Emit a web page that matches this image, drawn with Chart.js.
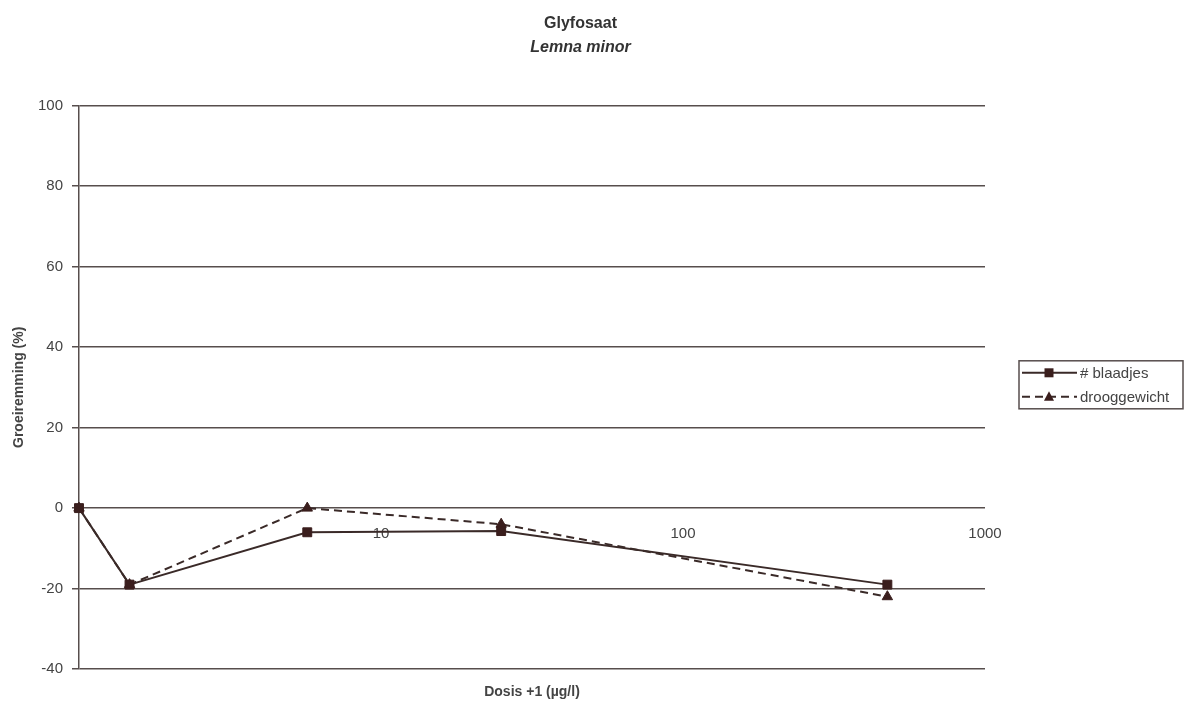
<!DOCTYPE html>
<html>
  <head>
    <meta charset="utf-8">
    <title>Glyfosaat - Lemna minor</title>
    <script src="https://cdn.jsdelivr.net/npm/chart.js@4.4.0/dist/chart.umd.min.js"></script>
    <style>
      body { margin: 0; background: #ffffff; }
      #wrap { width: 1189px; height: 706px; }
    </style>
  </head>
  <body>
    <div id="wrap"><canvas id="groeiChart"></canvas></div>
    <script>
      // dosis + 1 (µg/l)
      const doses = [1, 1.47, 5.7, 25, 475];
      // groeiremming (%) per serie
      const blaadjes = [0, -19, -6, -5.7, -19];
      const drooggewicht = [0, -19, 0, -4, -22];
      const seriesNames = ['# blaadjes', 'drooggewicht'];
      const xTickValues = [10, 100, 1000];

      const lineColor = '#3a2a28';
      const markerColor = '#3a1e1d';
      const gridColor = '#574e4d';
      const textColor = '#444444';
      Chart.defaults.font.family = '"Liberation Sans", Arial, sans-serif';

      // legend with a border, line sample and marker like the original
      const boxLegend = {
        id: 'boxLegend',
        afterDraw(chart) {
          const ctx = chart.ctx;
          const area = chart.chartArea;
          const rowH = 24;
          const left = area.right + 34;
          const width = 164;
          const top = (area.top + area.bottom) / 2 - 26.5;
          ctx.save();
          ctx.strokeStyle = gridColor;
          ctx.lineWidth = 1.5;
          ctx.strokeRect(left, top, width, rowH * 2);
          chart.data.datasets.forEach((ds, i) => {
            const y = top + rowH / 2 + i * rowH;
            ctx.strokeStyle = ds.borderColor;
            ctx.lineWidth = ds.borderWidth;
            ctx.setLineDash(ds.borderDash || []);
            ctx.beginPath();
            ctx.moveTo(left + 3, y);
            ctx.lineTo(left + 58, y);
            ctx.stroke();
            ctx.setLineDash([]);
            ctx.fillStyle = markerColor;
            const mx = left + 30;
            ctx.beginPath();
            if (ds.pointStyle === 'rect') {
              ctx.rect(mx - 4.5, y - 4.5, 9, 9);
            } else {
              ctx.moveTo(mx, y - 5.5);
              ctx.lineTo(mx + 5, y + 4);
              ctx.lineTo(mx - 5, y + 4);
              ctx.closePath();
            }
            ctx.fill();
            ctx.fillStyle = textColor;
            ctx.font = '15px "Liberation Sans", Arial, sans-serif';
            ctx.textBaseline = 'middle';
            ctx.fillText(ds.label, left + 61, y + 1);
          });
          ctx.restore();
        }
      };

      new Chart(document.getElementById('groeiChart'), {
        type: 'line',
        data: {
          datasets: [{
            label: seriesNames[0],
            data: doses.map((d, i) => ({ x: d, y: blaadjes[i] })),
            borderColor: lineColor,
            borderWidth: 2,
            pointStyle: 'rect',
            pointRadius: 6.3,
            pointBackgroundColor: markerColor,
            pointBorderColor: markerColor,
            pointBorderWidth: 1,
            clip: false
          }, {
            label: seriesNames[1],
            data: doses.map((d, i) => ({ x: d, y: drooggewicht[i] })),
            borderColor: lineColor,
            borderWidth: 2,
            borderDash: [8, 5],
            pointStyle: 'triangle',
            pointRadius: 6,
            pointBackgroundColor: markerColor,
            pointBorderColor: markerColor,
            pointBorderWidth: 1,
            clip: false
          }]
        },
        options: {
          responsive: true,
          maintainAspectRatio: false,
          animation: false,
          // a bit of right padding so the title sits where the original has it
          layout: { padding: { right: 28 } },
          plugins: {
            legend: { display: false },
            tooltip: { enabled: false },
            title: {
              display: true,
              text: 'Glyfosaat',
              color: '#333333',
              font: { size: 16, weight: 'bold' },
              padding: { top: 14, bottom: 5 }
            },
            subtitle: {
              display: true,
              text: 'Lemna minor',
              color: '#333333',
              font: { size: 16, weight: 'bold', style: 'italic' },
              padding: { top: 0, bottom: 48 }
            }
          },
          scales: {
            x: {
              type: 'logarithmic',
              min: 1,
              max: 1000,
              position: { y: 0 },
              afterBuildTicks(scale) {
                scale.ticks = xTickValues.map(v => ({ value: v }));
              },
              ticks: {
                color: textColor,
                font: { size: 15 },
                padding: 17,
                autoSkip: false,
                maxRotation: 0,
                callback: v => String(v)
              },
              grid: { display: false, drawTicks: false },
              border: { display: false }
            },
            x2: {
              type: 'linear',
              position: 'bottom',
              ticks: { display: false },
              grid: { display: false, drawTicks: false },
              border: { display: false },
              title: {
                display: true,
                text: 'Dosis +1 (µg/l)',
                color: textColor,
                font: { size: 14, weight: 'bold' },
                padding: { top: 15, bottom: 5 }
              }
            },
            y: {
              min: -40,
              max: 100,
              ticks: { stepSize: 20, color: textColor, font: { size: 15 }, padding: 9 },
              grid: { color: gridColor, lineWidth: 1.5, tickLength: 7 },
              border: { display: true, color: gridColor, width: 1.5 },
              title: {
                display: true,
                text: 'Groeiremming (%)',
                color: textColor,
                font: { size: 14, weight: 'bold' },
                padding: { top: 11, bottom: 11 }
              },
              afterFit(scale) { scale.width = 79; }
            },
            // empty axis on the right that keeps room for the boxed legend
            legendSpace: {
              axis: 'y',
              position: 'right',
              ticks: { display: false },
              grid: { display: false, drawTicks: false },
              border: { display: false },
              afterFit(scale) { scale.width = 176; }
            }
          }
        },
        plugins: [boxLegend]
      });
    </script>
  </body>
</html>
